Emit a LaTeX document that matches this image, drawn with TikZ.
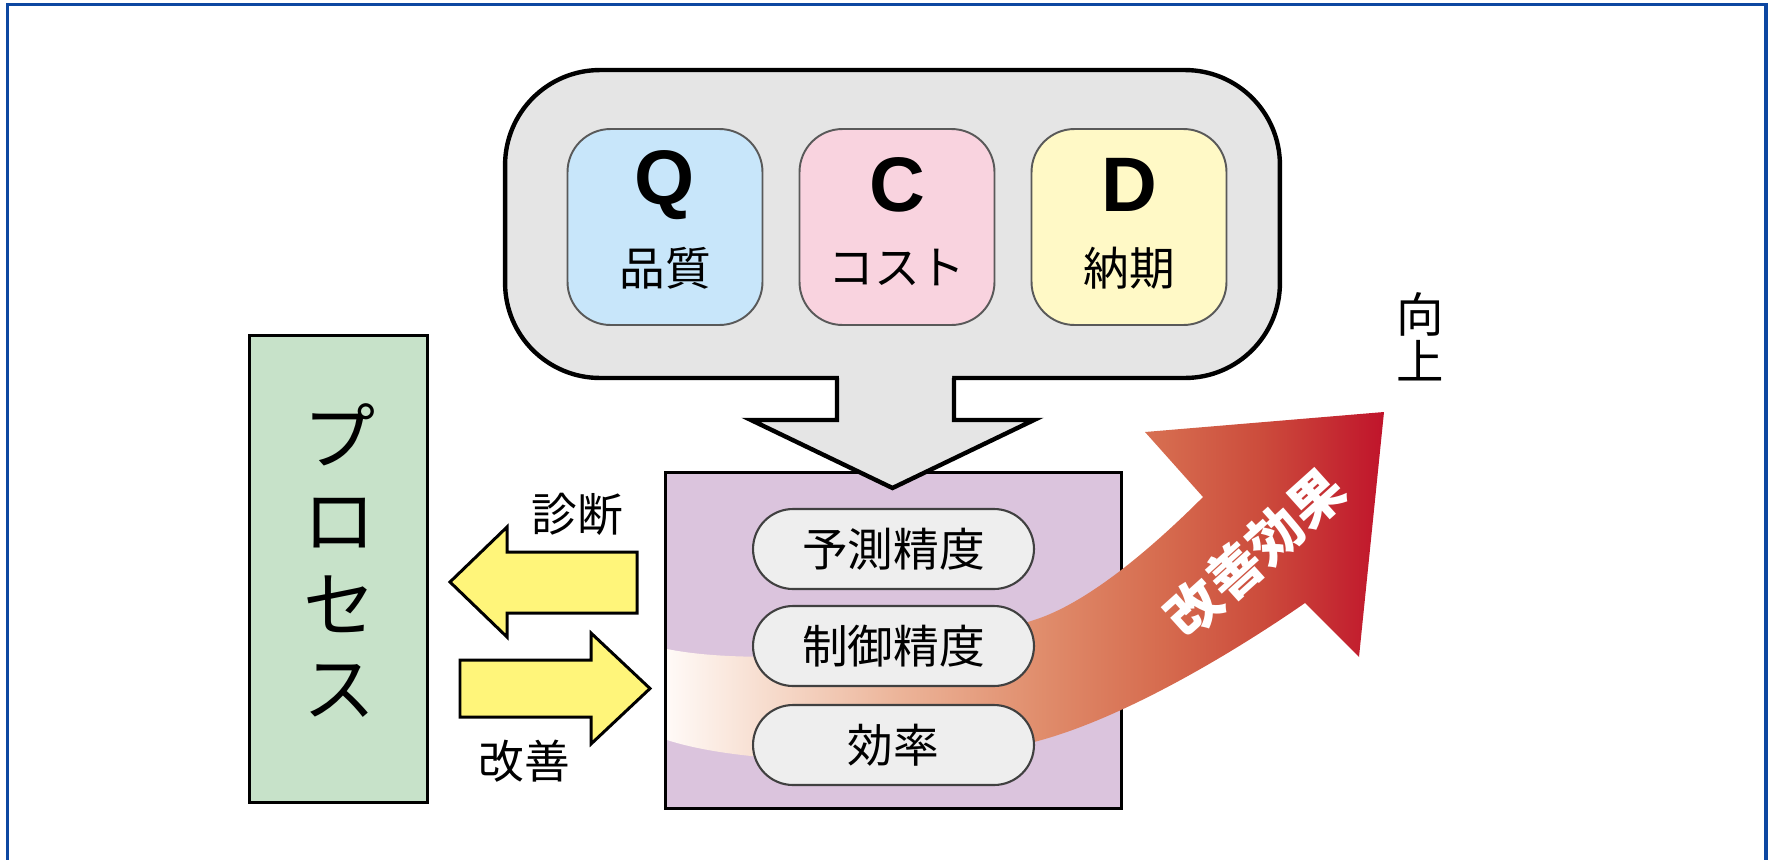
\documentclass[tikz,border=0pt]{standalone}
\usepackage{fontspec}
\setmainfont{Noto Sans CJK JP}
\newfontfamily\qcdfont{Liberation Sans}
\usepackage{tikz}

\definecolor{frameblue}{HTML}{0D47A1}
\definecolor{qcdgray}{HTML}{E5E5E5}
\definecolor{qblue}{HTML}{C8E6FA}
\definecolor{cpink}{HTML}{F9D3DF}
\definecolor{dyellow}{HTML}{FFF9C6}
\definecolor{ctrlpurple}{HTML}{DBC4DD}
\definecolor{procgreen}{HTML}{C7E2C9}
\definecolor{arrowyellow}{HTML}{FFF57A}
\definecolor{pillgray}{HTML}{EEEEEE}
\definecolor{eff0}{HTML}{FFFAF7}
\definecolor{eff1}{HTML}{F7DED0}
\definecolor{eff2}{HTML}{ECB499}
\definecolor{eff3}{HTML}{E08D6C}
\definecolor{eff4}{HTML}{D66C4F}
\definecolor{eff5}{HTML}{CC4C3C}
\definecolor{eff6}{HTML}{C0142B}
\pgfdeclarehorizontalshading{effectshade}{100bp}{color(0bp)=(eff0); color(25bp)=(eff0);
  color(31.5bp)=(eff1); color(41.2bp)=(eff2); color(51bp)=(eff3); color(59.4bp)=(eff4);
  color(66.4bp)=(eff5); color(75bp)=(eff6); color(100bp)=(eff6)}

\begin{document}
\begin{tikzpicture}[x=0.02cm, y=-0.02cm,
    qcdbox/.style={draw=black!65, line width=1.1pt, rounded corners=0.86cm, minimum width=3.9cm, minimum height=3.92cm, inner sep=0pt},
    letter/.style={font=\qcdfont\bfseries\fontsize{44}{44}\selectfont},
    kanji/.style={font=\fontsize{26}{26}\selectfont},
    pill/.style={draw=black!75, fill=pillgray, line width=1.2pt, rounded corners=0.8cm, minimum width=5.62cm, minimum height=1.6cm, inner sep=0pt, font=\fontsize{26}{26}\selectfont},
    bigbox/.style={draw, line width=1.7pt, inner sep=0pt},
    blockarrow/.style={draw, fill=arrowyellow, line width=1.7pt}]
    \useasboundingbox (0,0) rectangle (1771,859);
    % QCD improvement through the process
    \draw [frameblue, line width=2pt] (7.5,880) -- (7.5,4.5) -- (1766,4.5) -- (1766,880);

    \node (ctrl) at (893.5,640.5) [bigbox, fill=ctrlpurple, minimum width=9.14cm, minimum height=6.74cm] {};

    \shade [shading=effectshade] (667,649) .. controls (760,668) and (950,650) .. (1040,618)
        .. controls (1090,600) and (1150,550) .. (1203,497) -- (1145,432) -- (1384,412) -- (1359,657) -- (1305,603)
        .. controls (1230,655) and (1120,720) .. (1034,742) .. controls (950,764) and (760,770) .. (667,740) -- cycle;
    \node (effect) at (1255,553) [rotate=42, text=white, font=\bfseries\fontsize{31}{31}\selectfont] {改善効果};

    \node (pred) at (893.5,549) [pill] {予測精度};
    \node (cont) at (893.5,646) [pill] {制御精度};
    \node (effi) at (893.5,745) [pill] {効率};

    \node (qcd) at (892.5,224) [draw, fill=qcdgray, line width=2.5pt, rounded corners=1.9cm, minimum width=15.5cm, minimum height=6.16cm, inner sep=0pt] {};
    \fill [qcdgray] (839,372) -- (839,420) -- (751,420) -- (892.5,488) -- (1034,420) -- (952,420) -- (952,372) -- cycle;
    \draw [line width=2.5pt] (837,378) -- (837,420) -- (751,420) -- (892.5,488) -- (1034,420) -- (954,420) -- (954,378);

    \node (q) at (665,227) [qcdbox, fill=qblue] {};
    \node (c) at (897,227) [qcdbox, fill=cpink] {};
    \node (d) at (1129,227) [qcdbox, fill=dyellow] {};
    \node (qL) at (665,185) [letter] {Q};
    \node (cL) at (897,185) [letter] {C};
    \node (dL) at (1129,185) [letter] {D};
    \node (qK) at (665,268) [kanji] {品質};
    \node (cK) at (897,268) [kanji] {コスト};
    \node (dK) at (1129,268) [kanji] {納期};

    \node (proc) at (338.5,569) [bigbox, fill=procgreen, minimum width=3.58cm, minimum height=9.36cm] {};
    \node (procL) at (340,561) [align=center, font=\fontsize{41}{47.8}\selectfont] {プ\\ロ\\セ\\ス};

    \draw [blockarrow] (450,582) -- (507,527) -- (507,552) -- (637,552) -- (637,613) -- (507,613) -- (507,637) -- cycle;
    \draw [blockarrow] (460,660) -- (591,660) -- (591,633) -- (650,688.5) -- (591,744) -- (591,717) -- (460,717) -- cycle;
    \node (diag) at (577,514) [kanji] {診断};
    \node (impr) at (524,761) [kanji] {改善};

    \node (up) at (1420,337) [align=center, font=\fontsize{27}{26.7}\selectfont] {向\\上};
\end{tikzpicture}
\end{document}
